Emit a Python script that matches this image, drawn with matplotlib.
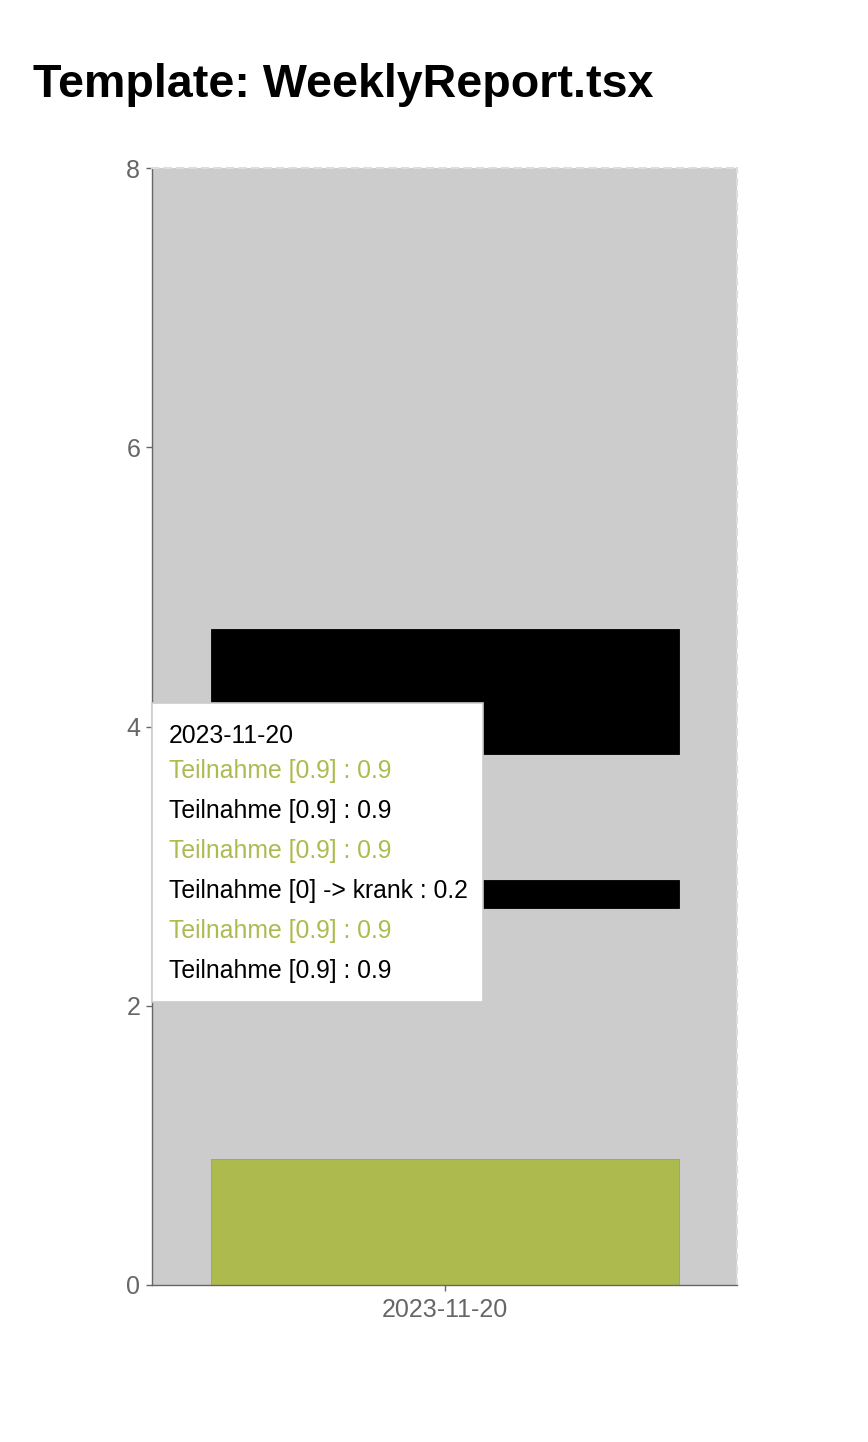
import matplotlib.pyplot as plt
from matplotlib.patches import Rectangle

plt.rcParams['font.family'] = ['Liberation Sans', 'DejaVu Sans']

# --- data ---
dates = ['2023-11-20']
series_names = ['Teilnahme [0.9]', 'Teilnahme [0.9]', 'Teilnahme [0.9]',
                'Teilnahme [0] -> krank', 'Teilnahme [0.9]', 'Teilnahme [0.9]']
series_values = [0.9, 0.9, 0.9, 0.2, 0.9, 0.9]
series_colors = ['#adbb4e', '#000000', '#adbb4e', '#000000', '#adbb4e', '#000000']
series_shown = [True, False, False, True, False, True]
y_ticks = [0, 2, 4, 6, 8]

W, H = 868, 1442
fig = plt.figure(figsize=(W / 100, H / 100), dpi=100)

def fx(px):
    return px / W

def fy(py):
    return 1 - py / H

ax = fig.add_axes([fx(152), fy(1285), fx(737) - fx(152), fy(168) - fy(1285)])
ax.set_facecolor('#cccccc')

bottom = 0
for name, val, col, shown in zip(series_names, series_values, series_colors, series_shown):
    if shown:
        ax.bar(dates, [val], bottom=bottom, width=0.8, color=col,
               edgecolor='#999999' if col != '#000000' else col, linewidth=0.6, zorder=2)
    bottom += val

ax.set_xlim(-0.5, 0.5)
ax.set_ylim(0, 8)
ax.set_yticks(y_ticks)
ax.tick_params(axis='both', colors='#666666', labelsize=18, length=4.5, width=1, pad=4)
ax.tick_params(axis='x', pad=5)
for s in ['left', 'bottom']:
    ax.spines[s].set_color('#666666')
    ax.spines[s].set_linewidth(1)
for s in ['top', 'right']:
    ax.spines[s].set_color('#dddddd')
    ax.spines[s].set_linestyle((0, (3, 3)))
    ax.spines[s].set_linewidth(1.5)

# title
fig.text(fx(33), fy(97), 'Template: WeeklyReport.tsx', fontsize=33.6, fontweight='bold',
         ha='left', va='baseline', color='black')

# tooltip
box = Rectangle((fx(152), fy(1002)), fx(483) - fx(152), fy(703) - fy(1002),
                transform=fig.transFigure, facecolor='white', edgecolor='#cccccc',
                linewidth=1.2, zorder=5)
fig.add_artist(box)
fig.text(fx(169), fy(736), dates[0], fontsize=17.8, color='black', va='center', ha='left', zorder=6)
for i, (name, val, col) in enumerate(zip(series_names, series_values, series_colors)):
    fig.text(fx(169), fy(771 + 40 * i), f'{name} : {val}', fontsize=17.8, color=col,
             va='center', ha='left', zorder=6)

plt.savefig('out.png', dpi=100)
